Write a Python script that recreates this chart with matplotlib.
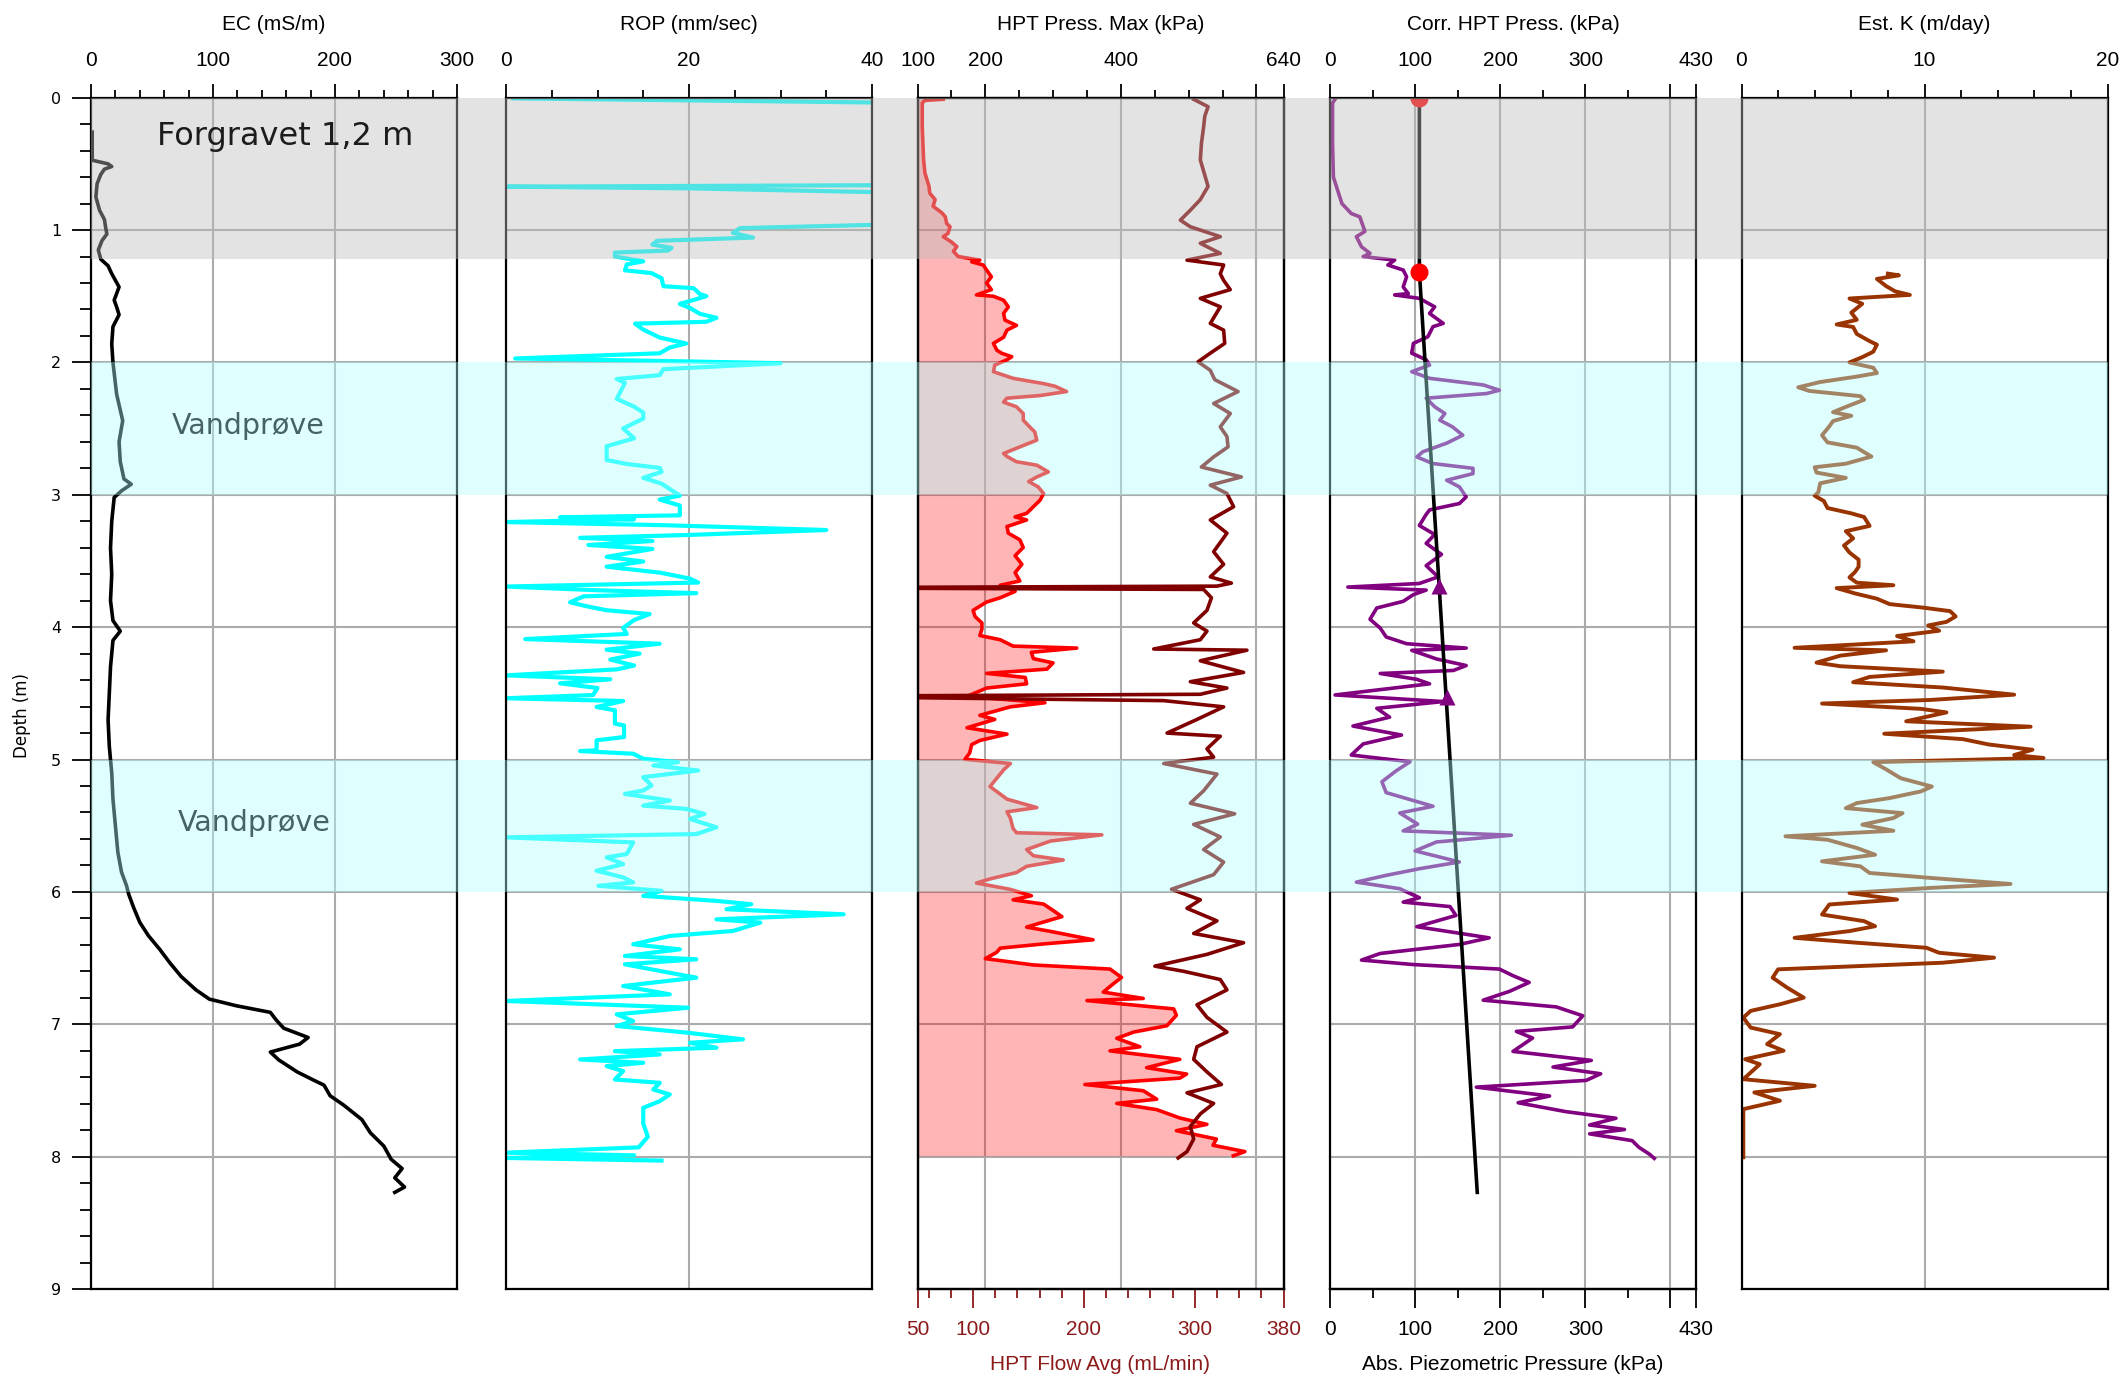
"""HPT / EC well log: five depth panels with shaded sampling intervals."""
import matplotlib
matplotlib.use('Agg')
import matplotlib.pyplot as plt
from matplotlib.ticker import MultipleLocator

# ---------------- data (depth m, value) ----------------
ec_log = [(0.26, 1), (0.46, 1), (0.47, 0), (0.50, 14), (0.52, 17), (0.54, 11), (0.58, 8), (0.65, 5),
          (0.75, 4), (0.85, 7), (0.92, 11), (0.98, 12), (1.03, 13), (1.08, 9), (1.15, 6), (1.22, 8),
          (1.27, 14), (1.33, 17), (1.43, 23), (1.53, 19), (1.58, 21), (1.64, 23), (1.73, 18), (1.86, 17),
          (2.0, 18), (2.24, 21), (2.44, 26), (2.6, 23), (2.75, 24), (2.88, 27), (2.92, 33), (2.97, 25),
          (3.02, 19), (3.2, 17), (3.4, 16), (3.6, 17), (3.8, 16), (3.95, 18), (4.03, 24), (4.1, 18),
          (4.3, 16), (4.5, 15), (4.7, 14), (4.9, 15), (5.1, 17), (5.3, 18), (5.5, 20), (5.7, 22),
          (5.85, 25), (5.95, 29), (6.02, 31), (6.12, 35), (6.23, 40), (6.33, 47), (6.43, 56), (6.54, 65),
          (6.64, 74), (6.74, 86), (6.81, 97), (6.86, 119), (6.91, 147), (6.97, 152), (7.03, 158),
          (7.1, 178), (7.15, 171), (7.21, 147), (7.27, 154), (7.36, 169), (7.42, 182), (7.46, 191),
          (7.54, 196), (7.61, 207), (7.72, 222), (7.82, 229), (7.92, 240), (8.02, 246), (8.09, 255),
          (8.16, 249), (8.23, 257), (8.27, 249)]

rop_log = [(0.005, 0.8), (0.04, 45), (0.1, 60), (0.6, 60), (0.66, 45), (0.672, 0.2), (0.685, 20),
           (0.72, 45), (0.76, 60), (0.93, 60), (0.961, 40), (0.985, 25.6), (1.021, 24.8), (1.057, 27),
           (1.081, 16.5), (1.110, 16), (1.134, 18.1), (1.155, 17.7), (1.170, 11.9), (1.2, 11.9),
           (1.236, 15), (1.26, 13.2), (1.304, 13), (1.325, 15.9), (1.364, 17), (1.424, 17.2),
           (1.439, 20.5), (1.484, 21.2), (1.499, 21.9), (1.528, 20.5), (1.558, 19), (1.588, 20.1),
           (1.633, 21.2), (1.663, 23), (1.693, 21.9), (1.707, 14.1), (1.752, 15), (1.812, 16.8),
           (1.857, 19.7), (1.887, 17.9), (1.931, 16.8), (1.970, 1), (1.99, 18), (2.006, 30),
           (2.051, 17.2), (2.096, 16.8), (2.125, 12.1), (2.155, 13), (2.275, 12.1), (2.334, 14),
           (2.379, 15), (2.424, 15), (2.499, 12.8), (2.573, 14), (2.633, 11), (2.737, 11),
           (2.767, 13.2), (2.797, 16.8), (2.827, 17), (2.872, 15), (2.916, 17), (3.006, 19),
           (3.036, 16.8), (3.081, 19), (3.155, 19), (3.170, 5.9), (3.185, 14), (3.206, 0), (3.23, 17.5),
           (3.266, 35), (3.304, 19.7), (3.325, 8.1), (3.349, 16), (3.379, 9), (3.409, 16), (3.469, 11),
           (3.504, 15), (3.543, 11), (3.588, 16.8), (3.633, 20.1), (3.663, 21), (3.693, 0), (3.722, 10.3),
           (3.743, 20.8), (3.767, 8.5), (3.812, 7), (3.842, 8.8), (3.872, 11), (3.901, 15.7), (3.946, 14),
           (4.006, 12.8), (4.051, 13.2), (4.090, 2.1), (4.125, 16.8), (4.170, 11), (4.2, 14.6),
           (4.245, 11.4), (4.290, 14), (4.319, 12.1), (4.364, 0), (4.394, 11.4), (4.424, 5.9), (4.46, 10),
           (4.513, 9.5), (4.537, 0), (4.558, 12.8), (4.603, 9.9), (4.628, 11.9), (4.729, 11.9),
           (4.742, 12.9), (4.83, 12.9), (4.855, 9.9), (4.93, 9.9), (4.936, 8.1), (4.956, 13.9),
           (4.994, 15), (5.02, 18.8), (5.045, 16.1), (5.083, 21), (5.133, 15), (5.196, 15.9), (5.234, 15),
           (5.26, 13), (5.31, 17.9), (5.348, 15), (5.373, 19.7), (5.411, 21.7), (5.449, 20.1), (5.512, 23),
           (5.563, 20.8), (5.588, 0), (5.626, 13.9), (5.714, 13.2), (5.739, 11), (5.79, 12.8), (5.84, 9.9),
           (5.89, 12.8), (5.928, 13.9), (5.954, 10.1), (5.992, 17), (6.03, 15), (6.068, 23), (6.093, 26.8),
           (6.131, 24.1), (6.169, 36.9), (6.207, 23), (6.232, 27.8), (6.295, 24.8), (6.333, 17.9),
           (6.396, 13.9), (6.434, 19), (6.484, 13), (6.509, 20.8), (6.547, 13), (6.597, 16.8),
           (6.648, 20.8), (6.711, 12.8), (6.774, 17.9), (6.824, 0), (6.875, 19.9), (6.925, 12.1),
           (6.976, 13.9), (7.013, 12.1), (7.064, 19.9), (7.114, 25.9), (7.14, 20.1), (7.177, 23),
           (7.203, 11.9), (7.228, 16.8), (7.266, 8.1), (7.291, 15), (7.316, 11), (7.354, 12.8),
           (7.417, 11.9), (7.442, 16.8), (7.493, 16.1), (7.53, 17.9), (7.581, 16.8), (7.631, 15),
           (7.75, 15), (7.85, 15.5), (7.93, 14.5), (7.97, 0), (7.99, 14), (8.01, 0), (8.03, 17)]

hpt_press_log = [(0.012, 138), (0.02, 111), (0.04, 107), (0.22, 107), (0.47, 109), (0.57, 111), (0.67, 117),
                 (0.72, 118), (0.77, 126), (0.82, 123), (0.87, 136), (0.9, 141), (0.95, 143), (0.975, 148),
                 (1.025, 145), (1.05, 138), (1.09, 150), (1.125, 158), (1.16, 153), (1.2, 160), (1.227, 192),
                 (1.24, 180), (1.264, 197), (1.302, 202), (1.353, 209), (1.40, 202), (1.45, 209), (1.49, 187),
                 (1.50, 212), (1.53, 227), (1.58, 234), (1.63, 227), (1.68, 229), (1.72, 246), (1.756, 232),
                 (1.81, 227), (1.856, 212), (1.907, 217), (1.93, 224), (1.957, 239), (1.98, 232), (2.02, 214),
                 (2.07, 212), (2.12, 241), (2.16, 286), (2.18, 303), (2.22, 320), (2.25, 281), (2.27, 232),
                 (2.30, 227), (2.335, 246), (2.386, 256), (2.436, 256), (2.49, 266), (2.525, 273),
                 (2.587, 276), (2.638, 251), (2.688, 227), (2.71, 232), (2.75, 246), (2.776, 276),
                 (2.827, 293), (2.865, 276), (2.9, 264), (2.94, 278), (2.99, 286), (3.04, 281), (3.09, 271),
                 (3.14, 261), (3.167, 244), (3.19, 261), (3.24, 232), (3.29, 234), (3.34, 251), (3.398, 256),
                 (3.46, 244), (3.525, 254), (3.588, 244), (3.651, 251), (3.683, 222), (3.73, 244),
                 (3.778, 222), (3.81, 202), (3.873, 182), (3.92, 185), (3.968, 195), (4.016, 195),
                 (4.063, 192), (4.095, 222), (4.143, 241), (4.158, 335), (4.19, 268), (4.238, 271),
                 (4.27, 300), (4.317, 291), (4.349, 202), (4.38, 259), (4.428, 261), (4.46, 202), (4.523, 173),
                 (4.571, 288), (4.602, 237), (4.666, 192), (4.697, 214), (4.76, 173), (4.808, 232),
                 (4.856, 192), (4.887, 180), (4.95, 177), (4.998, 170), (5.03, 237), (5.078, 227),
                 (5.141, 217), (5.204, 207), (5.299, 232), (5.363, 276), (5.395, 232), (5.442, 237),
                 (5.521, 241), (5.553, 246), (5.569, 372), (5.616, 296), (5.68, 261), (5.727, 271),
                 (5.759, 315), (5.807, 261), (5.854, 246), (5.902, 207), (5.933, 187), (5.981, 237),
                 (6.029, 268), (6.06, 241), (6.092, 286), (6.14, 300), (6.187, 313), (6.235, 281),
                 (6.266, 261), (6.298, 296), (6.362, 359), (6.393, 286), (6.425, 222), (6.456, 217),
                 (6.504, 200), (6.552, 271), (6.583, 384), (6.646, 401), (6.694, 389), (6.757, 374),
                 (6.805, 433), (6.821, 350), (6.884, 478), (6.932, 482), (7.011, 468), (7.059, 419),
                 (7.106, 394), (7.17, 428), (7.201, 384), (7.265, 487), (7.328, 438), (7.376, 497),
                 (7.407, 487), (7.455, 347), (7.502, 433), (7.566, 453), (7.598, 394), (7.645, 453),
                 (7.708, 487), (7.756, 527), (7.804, 482), (7.867, 541), (7.914, 536), (7.962, 583),
                 (7.994, 566)]

hpt_flow_log = [(0.012, 299), (0.068, 312), (0.14, 309), (0.22, 308), (0.345, 306), (0.47, 305), (0.67, 312),
                (0.77, 305), (0.85, 296), (0.925, 287), (0.975, 296), (1.05, 323), (1.1, 305), (1.176, 323),
                (1.227, 293), (1.264, 326), (1.33, 323), (1.38, 326), (1.45, 332), (1.516, 305), (1.58, 323),
                (1.705, 314), (1.756, 326), (1.856, 327), (1.93, 314), (1.995, 303), (2.06, 314), (2.13, 318),
                (2.22, 339), (2.31, 317), (2.386, 332), (2.487, 323), (2.56, 329), (2.638, 330), (2.714, 317),
                (2.79, 306), (2.865, 342), (2.927, 314), (2.99, 329), (3.09, 335), (3.19, 314), (3.29, 329),
                (3.43, 317), (3.525, 326), (3.62, 314), (3.667, 333), (3.69, 320), (3.70, 0), (3.705, 0),
                (3.715, 308), (3.778, 315), (3.873, 311), (3.968, 299), (4.03, 311), (4.095, 305),
                (4.165, 263), (4.174, 347), (4.254, 305), (4.342, 344), (4.412, 296), (4.46, 329),
                (4.507, 305), (4.52, 0), (4.528, 0), (4.555, 272), (4.602, 326), (4.697, 302), (4.8, 275),
                (4.824, 323), (4.919, 311), (4.982, 317), (5.03, 272), (5.11, 320), (5.236, 308), (5.33, 296),
                (5.41, 336), (5.49, 299), (5.585, 323), (5.68, 308), (5.775, 326), (5.87, 317), (5.98, 279),
                (6.06, 305), (6.124, 293), (6.219, 320), (6.314, 299), (6.384, 344), (6.472, 311),
                (6.561, 264), (6.6, 290), (6.662, 323), (6.74, 329), (6.853, 302), (6.948, 311), (7.059, 329),
                (7.17, 302), (7.265, 299), (7.36, 311), (7.455, 324), (7.518, 293), (7.598, 317), (7.677, 305),
                (7.772, 296), (7.867, 299), (7.962, 293), (8.01, 285)]

corr_press_log = [(0.012, 5.9), (0.04, 3), (0.345, 3), (0.6, 4), (0.72, 10), (0.8, 14), (0.875, 25), (0.9, 35),
                  (0.975, 39), (1.01, 41), (1.05, 31), (1.126, 37), (1.176, 47), (1.2, 39), (1.227, 76),
                  (1.264, 68), (1.302, 86), (1.353, 90), (1.43, 86), (1.48, 92), (1.49, 76), (1.516, 105),
                  (1.58, 123), (1.63, 117), (1.705, 133), (1.73, 121), (1.806, 115), (1.856, 98), (1.93, 96),
                  (1.98, 113), (2.02, 117), (2.07, 96), (2.12, 117), (2.17, 180), (2.21, 199), (2.235, 184),
                  (2.27, 113), (2.335, 123), (2.386, 135), (2.436, 129), (2.487, 144), (2.55, 156), (2.61, 137),
                  (2.675, 109), (2.714, 102), (2.764, 121), (2.8, 168), (2.84, 168), (2.89, 137), (2.94, 152),
                  (3.016, 160), (3.066, 152), (3.114, 117), (3.148, 113), (3.232, 105), (3.3, 123),
                  (3.367, 113), (3.45, 131), (3.535, 113), (3.62, 127), (3.67, 105), (3.697, 21), (3.72, 113),
                  (3.754, 98), (3.805, 86), (3.855, 55), (3.94, 47), (4.007, 59), (4.074, 66), (4.125, 90),
                  (4.158, 160), (4.175, 96), (4.24, 125), (4.29, 160), (4.327, 145), (4.35, 59), (4.394, 102),
                  (4.428, 117), (4.512, 6), (4.562, 133), (4.613, 55), (4.68, 70), (4.747, 27), (4.815, 84),
                  (4.882, 39), (4.966, 25), (5.017, 94), (5.084, 78), (5.168, 61), (5.25, 66), (5.353, 121),
                  (5.404, 82), (5.488, 103), (5.539, 86), (5.572, 213), (5.623, 125), (5.69, 100),
                  (5.774, 152), (5.825, 105), (5.875, 66), (5.926, 31), (5.976, 82), (6.044, 105),
                  (6.077, 86), (6.111, 141), (6.178, 148), (6.263, 102), (6.347, 187), (6.397, 152),
                  (6.465, 59), (6.515, 37), (6.549, 98), (6.583, 199), (6.633, 215), (6.684, 234),
                  (6.751, 211), (6.818, 180), (6.869, 266), (6.936, 297), (7.02, 285), (7.054, 219),
                  (7.104, 238), (7.205, 215), (7.273, 307), (7.323, 262), (7.374, 318), (7.424, 301),
                  (7.475, 172), (7.542, 258), (7.593, 221), (7.66, 277), (7.71, 336), (7.761, 305),
                  (7.795, 346), (7.828, 305), (7.879, 355), (7.93, 363), (7.98, 375), (8.013, 381)]

piezo_depth = [0.0, 1.315, 8.27]
piezo_value = [105, 105, 173]
water_depth = [0.0, 1.315]          # red dots
water_value = [105, 105]
dissipation_depth = [3.69, 4.53]    # purple triangles
dissipation_value = [128, 137]

est_k_log = [(1.329, 8.0), (1.342, 8.6), (1.369, 7.4), (1.423, 7.9), (1.463, 8.4), (1.49, 9.2), (1.517, 5.9),
             (1.557, 6.6), (1.624, 6.0), (1.678, 6.3), (1.713, 5.2), (1.732, 6.1), (1.785, 6.3), (1.839, 7.0),
             (1.866, 7.4), (1.919, 7.2), (1.96, 6.6), (2.0, 5.9), (2.04, 7.2), (2.08, 7.4), (2.107, 6.3),
             (2.148, 4.3), (2.188, 3.1), (2.215, 3.7), (2.255, 6.5), (2.282, 6.7), (2.336, 5.7), (2.376, 5.0),
             (2.403, 6.0), (2.443, 5.0), (2.483, 4.8), (2.55, 4.4), (2.604, 4.7), (2.644, 6.3), (2.711, 7.1),
             (2.765, 5.7), (2.792, 4.0), (2.832, 4.1), (2.872, 5.7), (2.913, 4.3), (2.98, 4.2), (3.007, 4.0),
             (3.047, 4.5), (3.1, 4.7), (3.14, 6.0), (3.168, 6.7), (3.235, 7.0), (3.275, 5.7), (3.329, 6.1),
             (3.383, 5.6), (3.436, 5.9), (3.49, 6.4), (3.544, 6.4), (3.584, 6.2), (3.624, 5.9), (3.664, 6.3),
             (3.683, 8.3), (3.705, 5.2), (3.745, 6.2), (3.785, 7.4), (3.826, 8.1), (3.852, 9.9),
             (3.879, 11.4), (3.919, 11.7), (3.96, 11.2), (3.987, 10.2), (4.027, 10.8), (4.067, 8.5),
             (4.107, 9.4), (4.156, 2.9), (4.175, 7.9), (4.215, 5.4), (4.268, 4.1), (4.295, 5.4),
             (4.336, 11.0), (4.376, 7.0), (4.416, 6.1), (4.456, 11.0), (4.51, 14.9), (4.55, 10.3),
             (4.577, 4.4), (4.617, 9.8), (4.644, 11.2), (4.711, 9.0), (4.752, 15.8), (4.805, 7.8),
             (4.846, 12.1), (4.886, 13.5), (4.926, 15.9), (4.966, 14.9), (4.988, 16.5), (5.02, 7.2),
             (5.074, 7.9), (5.141, 8.7), (5.204, 10.4), (5.241, 9.8), (5.291, 8.1), (5.329, 6.3),
             (5.367, 5.7), (5.405, 8.8), (5.442, 8.3), (5.492, 6.6), (5.538, 8.3), (5.58, 2.4), (5.606, 4.7),
             (5.668, 6.3), (5.719, 7.3), (5.769, 4.4), (5.807, 6.5), (5.857, 7.0), (5.894, 10.3),
             (5.94, 14.7), (5.97, 10.3), (6.008, 5.9), (6.058, 8.5), (6.095, 4.8), (6.171, 4.4),
             (6.221, 6.7), (6.259, 7.3), (6.296, 5.9), (6.347, 2.9), (6.384, 6.3), (6.422, 10.1),
             (6.46, 10.8), (6.497, 13.8), (6.535, 11.0), (6.585, 2.0), (6.648, 1.7), (6.724, 2.5),
             (6.799, 3.4), (6.849, 2.1), (6.899, 0.5), (6.95, 0.1), (7.025, 0.5), (7.075, 2.1), (7.15, 1.4),
             (7.2, 2.3), (7.264, 0.2), (7.302, 1.0), (7.415, 0.1), (7.465, 4.0), (7.515, 0.7), (7.578, 2.1),
             (7.641, 0.1), (8.005, 0.1)]

# shaded intervals (depth top, depth bottom)
excavated = (0.0, 1.22)
water_samples = [(2.0, 3.0), (5.0, 6.0)]

# ---------------- layout ----------------
SANS = ['Liberation Sans', 'DejaVu Sans']
plt.rcParams['font.family'] = SANS
W, H = 2125, 1381
LEFTS = [91, 506, 917.5, 1330, 1741.5]
PW = 366
TOP, BOT = 97.7, 1289
GRID = '#ababab'
FLOW_C = '#8b1a1a'
FS = 15

fig = plt.figure(figsize=(W / 100, H / 100), dpi=100)


def split(log):
    d, v = zip(*log)
    return list(d), list(v)


def top_ticks(ax):
    ax.xaxis.tick_top()
    ax.tick_params(axis='x', which='major', direction='out', length=10, width=1.3, pad=10, labelsize=FS)
    ax.tick_params(axis='x', which='minor', direction='out', length=6, width=1.3)


def make_panel(i, xlim, major, labels, minor, title):
    ax = fig.add_axes([LEFTS[i] / W, 1 - BOT / H, PW / W, (BOT - TOP) / H])
    ax.set_xlim(*xlim)
    ax.set_ylim(9, 0)
    ax.set_xticks(major, labels)
    ax.xaxis.set_minor_locator(MultipleLocator(minor))
    top_ticks(ax)
    ax.set_yticks(range(10))
    ax.yaxis.set_minor_locator(MultipleLocator(0.2))
    if i == 0:
        ax.tick_params(axis='y', which='major', direction='out', length=13.5, width=1.3, pad=8, labelsize=11.5)
        ax.tick_params(axis='y', which='minor', direction='out', length=8, width=1.3)
        for lbl in ax.get_yticklabels():
            lbl.set_fontfamily('DejaVu Sans')
    else:
        ax.tick_params(axis='y', which='both', left=False, labelleft=False)
    ax.grid(True, which='major', color=GRID, lw=1.5)
    ax.set_axisbelow(True)
    for sp in ax.spines.values():
        sp.set_linewidth(1.6)
    fig.text((LEFTS[i] + PW / 2) / W, 1 - 24 / H, title, ha='center', va='center', fontsize=FS)
    return ax


LW = 2.6

# EC
ax_ec = make_panel(0, (0, 300), [0, 100, 200, 300], ['0', '100', '200', '300'], 20, 'EC (mS/m)')
d, v = split(ec_log)
ax_ec.plot(v, d, color='black', lw=LW)

# ROP
ax_rop = make_panel(1, (0, 40), [0, 20, 40], ['0', '20', '40'], 5, 'ROP (mm/sec)')
d, v = split(rop_log)
ax_rop.plot(v, d, color='#00ffff', lw=3.0)

# HPT pressure max + flow
ax_hpt = make_panel(2, (100, 640), [100, 200, 400, 600, 640], ['100', '200', '400', '', '640'], 50,
                    'HPT Press. Max (kPa)')
d, v = split(hpt_press_log)
ax_hpt.fill_betweenx(d, 100, v, color='#ff0000', alpha=0.29, lw=0)
ax_hpt.plot(v, d, color='#ff0000', lw=LW)

ax_flow = ax_hpt.twiny()
top_ticks(ax_hpt)          # twiny moves the host ticks to the bottom; put them back on top
ax_flow.set_xlim(50, 380)
ax_flow.xaxis.set_ticks_position('bottom')
ax_flow.set_xticks([50, 100, 200, 300, 380], ['50', '100', '200', '300', '380'])
ax_flow.xaxis.set_minor_locator(MultipleLocator(20))
ax_flow.tick_params(axis='x', which='major', direction='out', length=13.5, width=1.3, pad=9,
                    labelsize=FS, colors=FLOW_C)
ax_flow.tick_params(axis='x', which='minor', direction='out', length=6.5, width=1.3, colors=FLOW_C)
ax_flow.tick_params(top=False, labeltop=False)
for sp in ax_flow.spines.values():
    sp.set_linewidth(1.6)
d, v = split(hpt_flow_log)
ax_flow.plot(v, d, color='#800000', lw=LW)
fig.text((LEFTS[2] + PW / 2) / W, 1 - 1365 / H, 'HPT Flow Avg (mL/min)', ha='center', va='center',
         fontsize=FS, color=FLOW_C)

# Corrected HPT pressure
ax_cor = make_panel(3, (0, 430), [0, 100, 200, 300, 400, 430], ['0', '100', '200', '300', '', '430'], 50,
                    'Corr. HPT Press. (kPa)')
d, v = split(corr_press_log)
ax_cor.plot(v, d, color='#800080', lw=LW)
ax_cor.plot(piezo_value, piezo_depth, color='black', lw=LW)
ax_cor.plot(water_value, water_depth, 'o', color='#ff0000', ms=13, mec='none')
ax_cor.plot(dissipation_value, dissipation_depth, '^', color='#800080', ms=12, mec='none')
sec = ax_cor.secondary_xaxis('bottom')
sec.set_xticks([0, 100, 200, 300, 400, 430], ['0', '100', '200', '300', '', '430'])
sec.xaxis.set_minor_locator(MultipleLocator(50))
sec.tick_params(axis='x', which='major', direction='out', length=13.5, width=1.3, pad=9, labelsize=FS)
sec.tick_params(axis='x', which='minor', direction='out', length=6.5, width=1.3)
sec.spines['bottom'].set_linewidth(1.6)
fig.text((LEFTS[3] + PW / 2) / W, 1 - 1365 / H, 'Abs. Piezometric Pressure (kPa)', ha='center',
         va='center', fontsize=FS)

# Estimated K
ax_k = make_panel(4, (0, 20), [0, 10, 20], ['0', '10', '20'], 2, 'Est. K (m/day)')
d, v = split(est_k_log)
ax_k.plot(v, d, color='#993300', lw=2.8)

# translucent interval bands laid over all panels
ov = fig.add_axes([LEFTS[0] / W, 1 - BOT / H, (LEFTS[4] + PW - LEFTS[0]) / W, (BOT - TOP) / H])
ov.set_xlim(0, 1)
ov.set_ylim(9, 0)
ov.axis('off')
ov.patch.set_visible(False)
ov.axhspan(*excavated, color='#bdbdbd', alpha=0.424, lw=0)
for top, bot in water_samples:
    ov.axhspan(top, bot, color='#b1ffff', alpha=0.4, lw=0)

fig.text(285 / W, 1 - 136 / H, 'Forgravet 1,2 m', ha='center', va='center', fontsize=23,
         family='DejaVu Sans', color='#1c1c1c')
fig.text(248 / W, 1 - 426 / H, 'Vandprøve', ha='center', va='center', fontsize=20.5,
         family='DejaVu Sans', color='#476262')
fig.text(254 / W, 1 - 823 / H, 'Vandprøve', ha='center', va='center', fontsize=20.5,
         family='DejaVu Sans', color='#476262')
fig.text(22 / W, 1 - 716 / H, 'Depth (m)', ha='center', va='center', rotation=90, fontsize=12,
         family='DejaVu Sans')

fig.savefig('out.png', dpi=100)
